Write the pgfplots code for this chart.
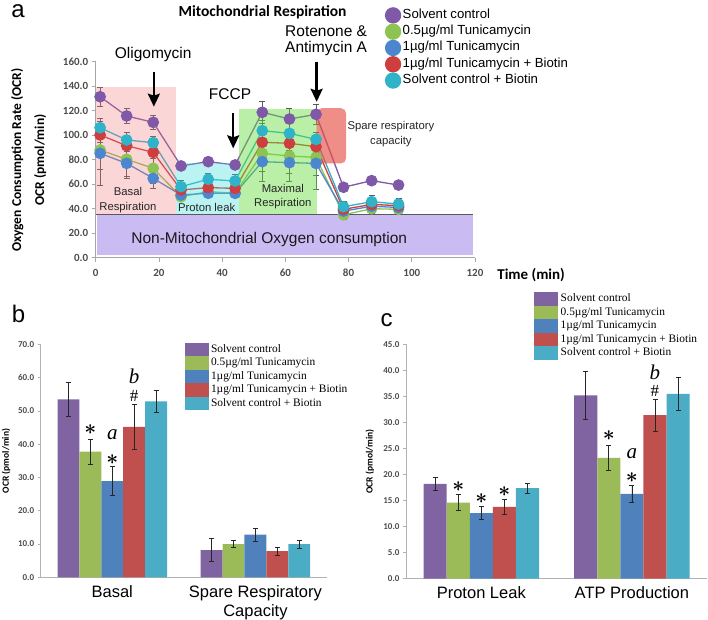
\documentclass[border=0pt]{standalone}
\usepackage{pgfplots}
\pgfplotsset{compat=1.18}
\usepackage{pgfplotstable}
\usepackage{fontspec}
\setmainfont{Liberation Sans}
\newfontfamily\carlito{Carlito}
\newfontfamily\timesf{Liberation Serif}
\usetikzlibrary{arrows.meta}
\pgfplotsset{/pgf/number format/assume math mode=true}

\definecolor{cP}{HTML}{8064A2}
\definecolor{cG}{HTML}{9BBB59}
\definecolor{cB}{HTML}{4F81BD}
\definecolor{cR}{HTML}{C0504D}
\definecolor{cC}{HTML}{4BACC6}
\definecolor{aP}{HTML}{7F58A8}
\definecolor{aG}{HTML}{8DC350}
\definecolor{aB}{HTML}{4C86CF}
\definecolor{aR}{HTML}{CF3E3E}
\definecolor{aC}{HTML}{2FB3C9}
\definecolor{fPink}{RGB}{240,120,120}
\definecolor{fCyan}{RGB}{60,220,220}
\definecolor{fGreen}{RGB}{100,220,60}
\definecolor{fSpare}{RGB}{230,80,70}
\definecolor{fPurp}{RGB}{150,120,230}

\pgfplotstableread{
t P Pe G Ge B Be R Re C Ce
1.4 131.4 8 87.9 16 85.2 26 100.2 6 106.1 8
9.8 115.7 6 80.3 14 77.0 12 91.4 5 96.1 6
18.2 110.5 6 73.0 12 64.8 8 86.0 5 93.9 5
27.0 74.9 3 49.8 3 51.2 3 55.3 3 58.0 5
35.6 78.4 3 53.9 3 52.6 3 57.2 3 64.0 5
44.1 75.7 3 52.6 3 52.6 3 56.6 3 62.6 5
52.7 118.7 9 85.2 15 78.4 16 94.2 6 103.7 8
61.3 113.2 9 83.0 14 77.6 15 93.4 6 101.5 8
69.7 117.0 8 81.9 15 77.0 21 90.6 5 96.6 6
78.4 57.5 2 35.0 4 38.0 5 39.5 3 41.6 4
87.3 62.9 2 40.0 3 42.0 6 43.5 3 45.7 5
95.8 59.3 2 39.5 3 41.0 5 42.5 3 43.8 5
}\dataA

\pgfplotsset{
  lineA/.style={color=#1, line width=1.3pt, mark=*, mark size=5.2pt,
    mark options={draw=#1, fill=#1},
    legend image code/.code={\fill[#1] (7.5pt,0pt) circle (7.5pt);},
    error bars/.cd, y dir=both, y explicit,
    error bar style={line width=0.8pt, black!65},
    error mark options={rotate=90, mark size=3pt, black!65, line width=0.8pt}},
  barA/.style={fill=#1, draw=none,
    legend image code/.code={\fill[#1] (0pt,-6.75pt) rectangle (24pt,6.75pt);},
    error bars/.cd, y dir=both, y explicit,
    error bar style={line width=0.7pt, black!85},
    error mark options={rotate=90, mark size=2.5pt, black!85, line width=0.7pt}},
  regA/.style={forget plot, draw=none, fill=#1},
}
\tikzset{
  star/.style={inner sep=0pt, font=\fontsize{22}{22}\selectfont},
  ital/.style={inner sep=0pt, font=\timesf\itshape\fontsize{21}{21}\selectfont},
  hash/.style={inner sep=0pt, font=\timesf\fontsize{17}{17}\selectfont},
}
\newcommand{\st}{{\boldmath$\ast$}}

\begin{document}
\begin{tikzpicture}
\useasboundingbox (0pt,0pt) rectangle (708pt,619pt);
\node[inner sep=0pt, font=\fontsize{24}{24}\selectfont] at (18pt,607.5pt) {a};
\node[inner sep=0pt, font=\fontsize{24}{24}\selectfont] at (18.5pt,305.5pt) {b};
\node[inner sep=0pt, font=\fontsize{24}{24}\selectfont] at (386.7pt,299pt) {c};
\node[font=\carlito\bfseries\fontsize{15.5}{17}\selectfont] at (262.5pt,607pt) {Mitochondrial Respiration};

% ---------------- Panel a ----------------
\begin{axis}[
  at={(95.7pt,361.3pt)}, anchor=south west, scale only axis,
  width=379.3pt, height=196pt,
  xmin=0, xmax=120, ymin=0, ymax=160,
  axis x line*=bottom, axis y line*=left,
  axis line style={black!35, line width=0.8pt},
  xtick={0,20,...,120}, ytick={0,20,...,160},
  tick align=outside, major tick length=4pt,
  tick style={black!35, line width=0.8pt},
  y tick label style={/pgf/number format/.cd, fixed, fixed zerofill, precision=1, /tikz/.cd},
  tick label style={font=\carlito\bfseries\fontsize{11}{12}\selectfont, text=black!70},
  x tick label style={yshift=-4pt},
  clip=false,
  xlabel={Time (min)},
  xlabel style={at={(axis description cs:1.148,-0.088)}, anchor=center, font=\carlito\bfseries\fontsize{15}{16}\selectfont},
  ylabel={Oxygen Consumption Rate (OCR)\\OCR (pmol/min)},
  ylabel style={at={(axis description cs:-0.177,0.498)}, anchor=center, align=center, font=\carlito\bfseries\fontsize{13.5}{23}\selectfont},
  legend cell align=left,
  legend style={at={(0.762,1.279)}, anchor=north west, draw=none, fill=none,
    inner sep=0pt, row sep=0pt, font=\fontsize{13.2}{14}\selectfont,
    nodes={inner ysep=0pt, inner xsep=1.5pt, text height=11pt, text depth=5pt}},
]
\addplot[lineA=aP] table[x=t, y=P, y error=Pe] {\dataA};
\addlegendentry{Solvent control}
\addplot[lineA=aG] table[x=t, y=G, y error=Ge] {\dataA};
\addlegendentry{0.5µg/ml Tunicamycin}
\addplot[lineA=aB] table[x=t, y=B, y error=Be] {\dataA};
\addlegendentry{1µg/ml Tunicamycin}
\addplot[lineA=aR] table[x=t, y=R, y error=Re] {\dataA};
\addlegendentry{1µg/ml Tunicamycin + Biotin}
\addplot[lineA=aC] table[x=t, y=C, y error=Ce] {\dataA};
\addlegendentry{Solvent control + Biotin}

\addplot[regA=fPink, fill opacity=0.3] coordinates {(0,35) (0,139) (25.3,139) (25.3,35)} -- cycle;
\addplot[regA=fCyan, fill opacity=0.35] coordinates {(25.3,35) (25.3,77) (45.3,77) (45.3,35)} -- cycle;
\addplot[regA=fGreen, fill opacity=0.45] coordinates {(45.3,35) (45.3,121.4) (69.9,121.4) (69.9,35)} -- cycle;
\addplot[regA=fSpare, fill opacity=0.65, rounded corners=5pt] coordinates {(69.9,77) (69.9,122) (79.2,122) (79.2,77)} -- cycle;
\addplot[regA=fPurp, fill opacity=0.5] coordinates {(0.3,2) (0.3,34.8) (119.5,34.8) (119.5,2)} -- cycle;
\addplot[forget plot, black!65, line width=1.2pt] coordinates {(0,35) (119.5,35)};

\node[align=center, font=\fontsize{11.3}{14.5}\selectfont, text=black!85] at (axis cs:10.2,47) {Basal\\Respiration};
\node[font=\fontsize{11.3}{14.5}\selectfont, text=black!85] at (axis cs:35.1,41.1) {Proton leak};
\node[align=center, font=\fontsize{11.3}{14.5}\selectfont, text=black!85] at (axis cs:59.2,49.9) {Maximal\\Respiration};
\node[align=center, font=\fontsize{11.3}{15}\selectfont, text=black!85] at (axis cs:93.4,100.8) {Spare respiratory\\capacity};
\node[font=\fontsize{15.5}{17}\selectfont, text=black!90] at (axis cs:54.9,15) {Non-Mitochondrial Oxygen consumption};

\node[font=\fontsize{15.5}{17}\selectfont] at (axis cs:18.2,165.5) {Oligomycin};
\node[font=\fontsize{15.5}{17}\selectfont] at (axis cs:42.5,133.4) {FCCP};
\node[align=center, font=\fontsize{15.5}{15.3}\selectfont] at (axis cs:72.9,177) {Rotenone \&\\Antimycin A};
\draw[line width=2.3pt, -{Stealth[length=13pt, width=12pt, inset=2pt]}] (axis cs:18.4,151.8) -- (axis cs:18.4,123.3);
\draw[line width=2.3pt, -{Stealth[length=13pt, width=12pt, inset=2pt]}] (axis cs:43.5,117.9) -- (axis cs:43.5,89.3);
\draw[line width=2.3pt, -{Stealth[length=13pt, width=12pt, inset=2pt]}] (axis cs:69.9,160) -- (axis cs:69.9,127.3);
\end{axis}

% ---------------- Panel b ----------------
\begin{axis}[
  at={(40.7pt,41.7pt)}, anchor=south west, scale only axis,
  width=286.3pt, height=232.8pt,
  ybar=0pt, bar width=21.9pt,
  xmin=-0.5, xmax=1.5, ymin=0, ymax=70,
  axis x line*=bottom, axis y line*=left,
  axis line style={black!30, line width=0.8pt},
  xtick={0,1}, xticklabels={Basal, {Spare Respiratory\\Capacity}},
  x tick style={draw=none},
  ytick={0,10,...,70},
  y tick style={black!30, line width=0.8pt},
  tick align=outside, major tick length=3pt,
  y tick label style={/pgf/number format/.cd, fixed, fixed zerofill, precision=1, /tikz/.cd,
    font=\carlito\bfseries\fontsize{9}{10}\selectfont, text=black!70},
  x tick label style={font=\fontsize{16.5}{19}\selectfont, align=center, text=black, yshift=-2pt},
  ylabel={OCR (pmol/min)},
  ylabel style={at={(axis description cs:-0.121,0.5)}, anchor=center, font=\carlito\bfseries\fontsize{9.5}{11}\selectfont},
  clip=false,
  legend cell align=left,
  legend style={at={(0.5016,1.0077)}, anchor=north west, draw=none, fill=none,
    inner sep=0pt, row sep=0pt, font=\timesf\fontsize{11.4}{13}\selectfont,
    nodes={inner ysep=0pt, inner xsep=2.5pt, text height=9.5pt, text depth=4pt}},
]
\addplot[barA=cP] coordinates {(0,53.5) +- (0,5.0) (1,8.2) +- (0,3.4)};
\addlegendentry{Solvent control}
\addplot[barA=cG] coordinates {(0,37.8) +- (0,3.8) (1,10.0) +- (0,1.1)};
\addlegendentry{0.5µg/ml Tunicamycin}
\addplot[barA=cB] coordinates {(0,28.9) +- (0,4.4) (1,12.8) +- (0,1.9)};
\addlegendentry{1µg/ml Tunicamycin}
\addplot[barA=cR] coordinates {(0,45.2) +- (0,6.8) (1,7.9) +- (0,1.2)};
\addlegendentry{1µg/ml Tunicamycin + Biotin}
\addplot[barA=cC] coordinates {(0,52.9) +- (0,3.3) (1,10.0) +- (0,1.2)};
\addlegendentry{Solvent control + Biotin}
\node[star] at (axis cs:-0.153,44.3) {\st};
\node[ital] at (axis cs:0,42.9) {a};
\node[star] at (axis cs:0,35.3) {\st};
\node[ital] at (axis cs:0.153,60.3) {b};
\node[hash] at (axis cs:0.153,54.5) {\#};
\end{axis}

% ---------------- Panel c ----------------
\begin{axis}[
  at={(406pt,40.3pt)}, anchor=south west, scale only axis,
  width=301.2pt, height=234.4pt,
  ybar=0pt, bar width=23.1pt,
  xmin=-0.5, xmax=1.5, ymin=0, ymax=45,
  axis x line*=bottom, axis y line*=left,
  axis line style={black!30, line width=0.8pt},
  xtick={0,1}, xticklabels={Proton Leak, ATP Production},
  x tick style={draw=none},
  ytick={0,5,...,45},
  y tick style={black!30, line width=0.8pt},
  tick align=outside, major tick length=3pt,
  y tick label style={/pgf/number format/.cd, fixed, fixed zerofill, precision=1, /tikz/.cd,
    font=\carlito\bfseries\fontsize{9}{10}\selectfont, text=black!70},
  x tick label style={font=\fontsize{16.5}{19}\selectfont, align=center, text=black, yshift=-1pt},
  ylabel={OCR (pmol/min)},
  ylabel style={at={(axis description cs:-0.12,0.5)}, anchor=center, font=\carlito\bfseries\fontsize{9.5}{11}\selectfont},
  clip=false,
  legend cell align=left,
  legend style={at={(0.425,1.223)}, anchor=north west, draw=none, fill=none,
    inner sep=0pt, row sep=0pt, font=\timesf\fontsize{11.4}{13}\selectfont,
    nodes={inner ysep=0pt, inner xsep=2.5pt, text height=9.5pt, text depth=4pt}},
]
\addplot[barA=cP] coordinates {(0,18.2) +- (0,1.3) (1,35.2) +- (0,4.7)};
\addlegendentry{Solvent control}
\addplot[barA=cG] coordinates {(0,14.6) +- (0,1.5) (1,23.2) +- (0,2.4)};
\addlegendentry{0.5µg/ml Tunicamycin}
\addplot[barA=cB] coordinates {(0,12.6) +- (0,1.2) (1,16.3) +- (0,1.6)};
\addlegendentry{1µg/ml Tunicamycin}
\addplot[barA=cR] coordinates {(0,13.8) +- (0,1.4) (1,31.4) +- (0,3.1)};
\addlegendentry{1µg/ml Tunicamycin + Biotin}
\addplot[barA=cC] coordinates {(0,17.4) +- (0,1.0) (1,35.5) +- (0,3.2)};
\addlegendentry{Solvent control + Biotin}
\node[star] at (axis cs:-0.153,17.7) {\st};
\node[star] at (axis cs:0,15.4) {\st};
\node[star] at (axis cs:0.153,16.7) {\st};
\node[star] at (axis cs:0.847,27.4) {\st};
\node[ital] at (axis cs:1,24.1) {a};
\node[star] at (axis cs:1,19.5) {\st};
\node[ital] at (axis cs:1.153,39.6) {b};
\node[hash] at (axis cs:1.153,36.0) {\#};
\end{axis}
\end{tikzpicture}
\end{document}
